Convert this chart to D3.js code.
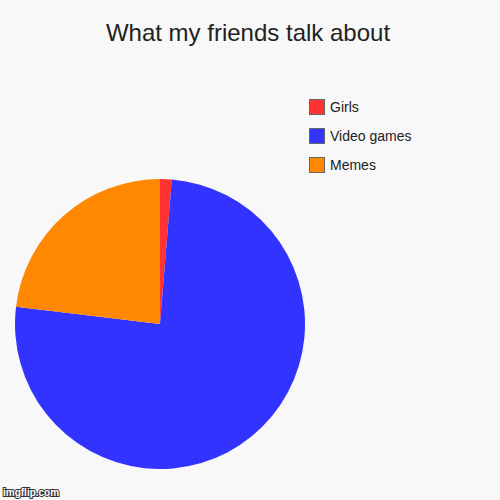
<!DOCTYPE html>
<html>
<head>
<meta charset="utf-8">
<script src="https://cdn.jsdelivr.net/npm/d3@7"></script>
<style>
  body { margin: 0; background: #f8f8f8; }
  svg { display: block; font-family: "Liberation Sans", Arial, sans-serif; }
</style>
</head>
<body>
<svg id="chart" width="500" height="500"></svg>
<script>
// chart data (percent of the pie)
const categories = ["Girls", "Video games", "Memes"];
const values = [1.3, 75.6, 23.1];
const colors = ["#ff3333", "#3333ff", "#ff8800"];

const svg = d3.select("#chart");

svg.append("rect")
    .attr("width", 500).attr("height", 500)
    .attr("fill", "#f8f8f8");

svg.append("text")
    .attr("x", 248).attr("y", 41)
    .attr("text-anchor", "middle")
    .attr("font-size", 24)
    .attr("fill", "#222")
    .text("What my friends talk about");

const color = d3.scaleOrdinal().domain(categories).range(colors);

const pie = d3.pie().sort(null).value(function (d) { return d.value; });
const arc = d3.arc().innerRadius(0).outerRadius(145);

const data = categories.map(function (c, i) {
    return { name: c, value: values[i] };
});

const g = svg.append("g").attr("transform", "translate(160,324)");

g.selectAll("path")
    .data(pie(data))
    .enter().append("path")
    .attr("d", arc)
    .attr("fill", function (d) { return color(d.data.name); });

// legend
const legend = svg.append("g").attr("transform", "translate(309,99)");
const item = legend.selectAll("g")
    .data(categories)
    .enter().append("g")
    .attr("transform", function (d, i) { return "translate(0," + (i * 29) + ")"; });

item.append("rect")
    .attr("x", 0.5).attr("y", 0.5)
    .attr("width", 15).attr("height", 15)
    .attr("fill", function (d) { return color(d); })
    .attr("stroke", "#666")
    .attr("stroke-width", 1);

item.append("text")
    .attr("x", 21).attr("y", 13)
    .attr("font-size", 14)
    .attr("fill", "#222")
    .text(function (d) { return d; });

// watermark
svg.append("text")
    .attr("x", 3).attr("y", 496)
    .attr("font-size", 10)
    .attr("font-weight", "bold")
    .attr("fill", "#fff")
    .attr("stroke", "#333")
    .attr("stroke-width", 2)
    .attr("paint-order", "stroke")
    .text("imgflip.com");
</script>
</body>
</html>
